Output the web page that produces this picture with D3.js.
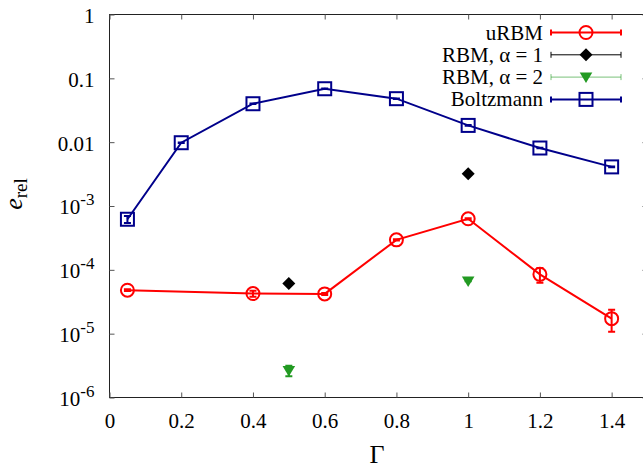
<!DOCTYPE html>
<html>
<head>
<meta charset="utf-8">
<script src="https://cdn.jsdelivr.net/npm/d3@7"></script>
<style>
  body { margin: 0; background: #fff; }
</style>
</head>
<body>
<div class="D3"></div>
<script>
// chart values
var urbmGamma = [0.05, 0.4, 0.6, 0.8, 1.0, 1.2, 1.4];
var urbmVals = [4.8e-5, 4.25e-5, 4.2e-5, 2.95e-4, 6.3e-4, 8.5e-5, 1.72e-5];
var urbmErr = [1.5e-6, 4.5e-6, 1.5e-6, 6e-6, 1.5e-5, 2.2e-5, 6.5e-6];

var rbm1Gamma = [0.5, 1.0];
var rbm1Vals = [6.1e-5, 3.2e-3];
var rbm1Err = [1e-6, 3e-5];

var rbm2Gamma = [0.5, 1.0];
var rbm2Vals = [2.65e-6, 6.7e-5];
var rbm2Err = [5e-7, 1e-6];

var boltzGamma = [0.05, 0.2, 0.4, 0.6, 0.8, 1.0, 1.2, 1.4];
var boltzVals = [6.2e-4, 9.8e-3, 0.04, 0.0687, 0.048, 0.0183, 0.0081, 0.0041];
var boltzErr = [8e-5, 1e-4, 4e-4, 6e-4, 5e-4, 2e-4, 8e-5, 4e-5];

var xTicks = [0, 0.2, 0.4, 0.6, 0.8, 1, 1.2, 1.4];
var yTicks = [1, 0.1, 0.01, 1e-3, 1e-4, 1e-5, 1e-6];

var serif = "'Liberation Serif', 'Times New Roman', 'DejaVu Serif', serif";

//set svg and chart dimensions and margins
var svgWidth = 643;
var svgHeight = 468;

var margin = {
  top: 14,
  right: -4,
  bottom: 71,
  left: 109
};

var chartWidth = svgWidth - margin.left - margin.right;
var chartHeight = svgHeight - margin.top - margin.bottom;

var svg = d3
  .select(".D3")
  .append("svg")
  .attr("width", svgWidth)
  .attr("height", svgHeight)
  .style("font-family", serif);

var chartGroup = svg.append("g")
  .attr("transform", `translate(${margin.left + 0.5}, ${margin.top + 0.5})`);

//scales
var xLinearScale = d3.scaleLinear()
  .domain([0, 1.5])
  .range([0, chartWidth]);

var yLogScale = d3.scaleLog()
  .domain([1e-6, 1])
  .range([chartHeight, 0]);

//frame
chartGroup.append("rect")
  .attr("width", chartWidth)
  .attr("height", chartHeight)
  .attr("fill", "none")
  .attr("stroke", "#222")
  .attr("stroke-width", 1);

//tick labels for the y axis, powers below 0.01 get a superscript
function yLabel(d) {
  var e = Math.round(Math.log10(d));
  if (e >= -2) return { base: d3.format("~g")(d), sup: null };
  return { base: "10", sup: String(e) };
}

//axes with inward ticks
var bottomAxis = d3.axisBottom(xLinearScale)
  .tickValues(xTicks)
  .tickSize(-5)
  .tickPadding(16)
  .tickFormat(d3.format("~g"));

var leftAxis = d3.axisLeft(yLogScale)
  .tickValues(yTicks)
  .tickSize(-5)
  .tickPadding(15)
  .tickFormat("");

var xAxis = chartGroup.append("g")
  .attr("transform", `translate(0, ${chartHeight})`)
  .call(bottomAxis);

var yAxis = chartGroup.append("g")
  .call(leftAxis);

//mirror ticks top and right
chartGroup.append("g")
  .call(d3.axisTop(xLinearScale).tickValues(xTicks).tickSize(-5).tickFormat(""));
chartGroup.append("g")
  .attr("transform", `translate(${chartWidth}, 0)`)
  .call(d3.axisRight(yLogScale).tickValues(yTicks).tickSize(-5).tickFormat(""));

chartGroup.selectAll(".domain").remove();
chartGroup.selectAll(".tick line").attr("stroke", "#555");
chartGroup.selectAll("g").attr("font-family", null);

xAxis.selectAll("text")
  .style("font-family", serif)
  .style("font-size", "21px")
  .attr("fill", "#000")
  .attr("dy", "0.71em");

//build y labels by hand so the exponent can be raised
yAxis.selectAll(".tick").each(function (d) {
  var lab = yLabel(d);
  var t = d3.select(this).select("text")
    .attr("x", -15)
    .attr("dy", "0.38em")
    .attr("fill", "#000")
    .style("font-family", serif)
    .style("font-size", "21px")
    .text(lab.base);
  if (lab.sup) {
    t.append("tspan")
      .attr("dy", "-9")
      .style("font-size", "17px")
      .text(lab.sup);
  }
});

//axis titles
svg.append("text")
  .attr("x", margin.left + chartWidth / 2 - 1)
  .attr("y", 463)
  .attr("text-anchor", "middle")
  .style("font-family", serif)
  .style("font-size", "26px")
  .text("Γ");

var yTitle = svg.append("text")
  .attr("transform", "translate(22, 194) rotate(-90)")
  .attr("text-anchor", "middle")
  .style("font-family", serif)
  .style("font-size", "26px");
yTitle.append("tspan")
  .style("font-style", "italic")
  .text("e");
yTitle.append("tspan")
  .attr("dy", "5")
  .style("font-size", "19px")
  .text("rel");

//series table built from the arrays
function makeSeries(g, v, err) {
  return g.map(function (x, i) { return { x: x, y: v[i], e: err[i] }; });
}

var series = [
  { name: "uRBM", data: makeSeries(urbmGamma, urbmVals, urbmErr), color: "#ff0000", width: 2, lines: true, marker: "circle", legendWidth: 2 },
  { name: "RBM, α = 1", data: makeSeries(rbm1Gamma, rbm1Vals, rbm1Err), color: "#000000", width: 1, lines: false, marker: "diamond", legendWidth: 1 },
  { name: "RBM, α = 2", data: makeSeries(rbm2Gamma, rbm2Vals, rbm2Err), color: "#229a22", width: 1, lines: false, marker: "triangle", legendWidth: 1 },
  { name: "Boltzmann", data: makeSeries(boltzGamma, boltzVals, boltzErr), color: "#00008b", width: 2, lines: true, marker: "square", legendWidth: 2 }
];

var line = d3.line()
  .x(d => xLinearScale(d.x))
  .y(d => yLogScale(d.y));

function drawMarker(g, type, color, cx, cy) {
  if (type === "circle") {
    g.append("circle").attr("cx", cx).attr("cy", cy).attr("r", 6.5)
      .attr("fill", "none").attr("stroke", color).attr("stroke-width", 2);
  } else if (type === "square") {
    g.append("rect").attr("x", cx - 6.5).attr("y", cy - 6.5).attr("width", 13).attr("height", 13)
      .attr("fill", "none").attr("stroke", color).attr("stroke-width", 2);
  } else if (type === "diamond") {
    g.append("path")
      .attr("d", `M${cx},${cy - 6.5}L${cx + 6.5},${cy}L${cx},${cy + 6.5}L${cx - 6.5},${cy}Z`)
      .attr("fill", color);
  } else if (type === "triangle") {
    g.append("path")
      .attr("d", `M${cx - 6.3},${cy - 4.5}L${cx + 6.3},${cy - 4.5}L${cx},${cy + 6}Z`)
      .attr("fill", color);
  }
}

series.forEach(function (s) {
  var g = chartGroup.append("g");

  if (s.lines) {
    g.append("path")
      .datum(s.data)
      .attr("d", line)
      .attr("fill", "none")
      .attr("stroke", s.color)
      .attr("stroke-width", s.width);
  }

  //error bars with small caps
  s.data.forEach(function (d) {
    var cx = xLinearScale(d.x);
    var y0 = yLogScale(d.y - d.e);
    var y1 = yLogScale(d.y + d.e);
    g.append("path")
      .attr("d", `M${cx},${y0}L${cx},${y1}M${cx - 3.5},${y0}L${cx + 3.5},${y0}M${cx - 3.5},${y1}L${cx + 3.5},${y1}`)
      .attr("fill", "none")
      .attr("stroke", s.color)
      .attr("stroke-width", 2);
  });

  s.data.forEach(function (d) {
    drawMarker(g, s.marker, s.color, xLinearScale(d.x), yLogScale(d.y));
  });
});

//legend, top right
var legend = svg.append("g");
var legendX0 = 551;
var legendX1 = 621;

series.forEach(function (s, i) {
  var cy = 32.5 + i * 22.3;
  legend.append("text")
    .attr("x", 543)
    .attr("y", cy + 7)
    .attr("text-anchor", "end")
    .style("font-family", serif)
    .style("font-size", "21px")
    .text(s.name);
  var op = s.marker === "triangle" ? 0.6 : 1;
  legend.append("path")
    .attr("d", `M${legendX0},${cy}L${legendX1},${cy}M${legendX0},${cy - 3}L${legendX0},${cy + 3}M${legendX1},${cy - 3}L${legendX1},${cy + 3}`)
    .attr("fill", "none")
    .attr("stroke", s.color)
    .attr("stroke-opacity", op)
    .attr("stroke-width", s.legendWidth);
  drawMarker(legend, s.marker, s.color, (legendX0 + legendX1) / 2, cy);
});
</script>
</body>
</html>
